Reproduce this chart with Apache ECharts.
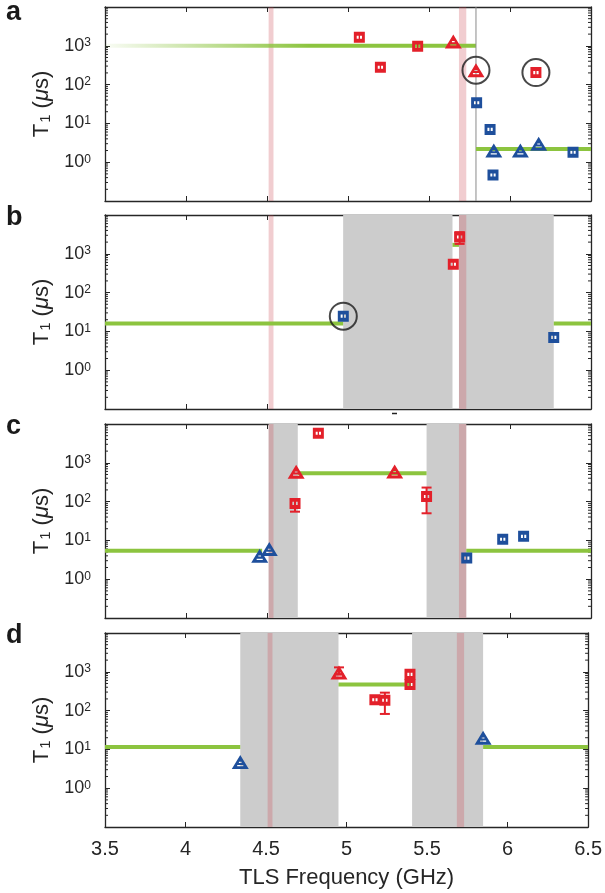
<!DOCTYPE html>
<html>
<head>
<meta charset="utf-8">
<script src="https://cdn.jsdelivr.net/npm/echarts@6/dist/echarts.min.js"></script>
<style>
  html, body { margin: 0; padding: 0; background: #fff; }
  #chart { width: 605px; height: 893px; }
</style>
</head>
<body>
<div id="chart"></div>
<script>
// ---- Axes ----
const freqTicks = [3.5, 4, 4.5, 5, 5.5, 6, 6.5];
const t1Range = [0.1, 10000];
const t1LabelExponents = [0, 1, 2, 3];

// Resonance bands shared by every panel (GHz)
const pinkBands = [[4.51, 4.54], [5.685, 5.73]];

// ---- Panel a ----
const aRedSquares = [[5.07, 1660], [5.20, 280], [5.43, 980], [6.16, 204]];
const aRedTriangles = [[5.65, 1300], [5.79, 235]];
const aBlueSquares = [[5.794, 34], [5.877, 7.0], [5.895, 0.47], [6.389, 1.8]];
const aBlueTriangles = [[5.90, 2.0], [6.064, 2.0], [6.177, 3.0]];
const aCircled = [[5.79, 235], [6.16, 204]];
const aFadeLevel = [[3.5, 1000], [5.79, 1000]];
const aLevels = [[5.79, 6.5, 2.2]];
const aGrayBands = [];
const aErrors = [];
const aMarkerLine = [5.79];

// ---- Panel b ----
const bRedSquares = [[5.689, 2700], [5.65, 540]];
const bRedTriangles = [];
const bBlueSquares = [[4.971, 24.7], [6.27, 7.0]];
const bBlueTriangles = [];
const bCircled = [[4.971, 24.7]];
const bLevels = [[3.5, 4.97, 16], [5.645, 5.685, 1700], [6.27, 6.5, 16]];
const bGrayBands = [[4.97, 5.645], [5.685, 6.27]];
const bErrors = [[5.689, 1800, 3600]];

// ---- Panel c ----
const cRedSquares = [[4.673, 90], [4.817, 5800], [5.485, 136]];
const cRedTriangles = [[4.68, 590], [5.288, 600]];
const cBlueSquares = [[5.733, 3.5], [5.955, 10.7], [6.084, 12.7]];
const cBlueTriangles = [[4.455, 4.0], [4.514, 6.0]];
const cCircled = [];
const cLevels = [[3.5, 4.47, 5.4], [4.69, 5.485, 540], [5.73, 6.5, 5.4]];
const cGrayBands = [[4.51, 4.69], [5.485, 5.73]];
const cErrors = [[4.673, 55, 110], [5.485, 50, 230]];

// ---- Panel d ----
const dRedSquares = [[5.394, 860], [5.394, 470], [5.176, 190], [5.238, 185]];
const dRedTriangles = [[4.953, 960]];
const dBlueSquares = [];
const dBlueTriangles = [[4.34, 4.7], [5.848, 20]];
const dCircled = [];
const dLevels = [[3.5, 4.34, 11.5], [4.95, 5.40, 470], [5.848, 6.5, 11.5]];
const dGrayBands = [[4.34, 4.95], [5.407, 5.848]];
const dErrors = [[5.238, 82, 290], [4.953, 850, 1300]];

const panelLetters = ['a', 'b', 'c', 'd'];

// ---- Styling ----
const FONT = '"Liberation Sans", Arial, Helvetica, sans-serif';
const INK = '#262626';
const RED = '#e3202a';
const BLUE = '#1e4f9c';
const GREEN = '#8cc43f';
const GRAY = '#cccccc';
const PINK = 'rgba(205,70,80,0.27)';
const GRID_LEFT = 105, GRID_RIGHT = 14, GRID_H = 194;
const GRID_TOPS = [7, 215, 424, 633];

// filled square with two small slots, filled triangle with two slots
const SQUARE = 'path://M0,0H10V10H0Z M2.6,3.6V6.4H4.4V3.6Z M5.6,3.6V6.4H7.4V3.6Z';
const TRIANGLE = 'path://M5,0L10,9H0Z M3.2,6.3V7.1H6.8V6.3Z M4.2,4.3V5H5.8V4.3Z';

const panels = [
  { red: aRedSquares, redTri: aRedTriangles, blue: aBlueSquares, blueTri: aBlueTriangles,
    circled: aCircled, levels: aLevels, gray: aGrayBands, errors: aErrors },
  { red: bRedSquares, redTri: bRedTriangles, blue: bBlueSquares, blueTri: bBlueTriangles,
    circled: bCircled, levels: bLevels, gray: bGrayBands, errors: bErrors },
  { red: cRedSquares, redTri: cRedTriangles, blue: cBlueSquares, blueTri: cBlueTriangles,
    circled: cCircled, levels: cLevels, gray: cGrayBands, errors: cErrors },
  { red: dRedSquares, redTri: dRedTriangles, blue: dBlueSquares, blueTri: dBlueTriangles,
    circled: dCircled, levels: dLevels, gray: dGrayBands, errors: dErrors }
];

// minor tick values of the log axis (2..9 in each decade)
const minorTicks = [];
for (let e = -1; e <= 3; e++) {
  for (let m = 2; m <= 9; m++) minorTicks.push([freqTicks[0], m * Math.pow(10, e)]);
}

const grid = [], xAxis = [], yAxis = [], series = [];

function bandSeries(k, bands, color, z) {
  return {
    type: 'custom', xAxisIndex: 2 * k, yAxisIndex: 2 * k, z: z, silent: true,
    data: bands,
    encode: { x: [0, 1] },
    renderItem: function (params, api) {
      const p0 = api.coord([api.value(0), t1Range[1]]);
      const p1 = api.coord([api.value(1), t1Range[0]]);
      return { type: 'rect', shape: { x: p0[0], y: p0[1], width: p1[0] - p0[0], height: p1[1] - p0[1] },
               style: { fill: color } };
    }
  };
}

panels.forEach(function (p, k) {
  grid.push({ left: GRID_LEFT, right: GRID_RIGHT, top: GRID_TOPS[k], height: GRID_H });

  const last = k === panels.length - 1;
  xAxis.push({
    type: 'value', gridIndex: k, min: freqTicks[0], max: freqTicks[freqTicks.length - 1], interval: 0.5,
    position: 'bottom',
    axisLine: { show: true, lineStyle: { color: INK, width: 1.3 } },
    axisTick: { show: true, inside: true, length: 5, lineStyle: { color: INK } },
    splitLine: { show: false },
    axisLabel: { show: last, fontFamily: FONT, fontSize: 20, color: INK, margin: 12,
                 formatter: function (v) { return String(v); } },
    name: last ? 'TLS Frequency (GHz)' : '',
    nameLocation: 'middle', nameGap: 40,
    nameTextStyle: { fontFamily: FONT, fontSize: 22, color: INK }
  });
  xAxis.push({
    type: 'value', gridIndex: k, min: freqTicks[0], max: freqTicks[freqTicks.length - 1], interval: 0.5,
    position: 'top',
    axisLine: { show: true, lineStyle: { color: INK, width: 1.3 } },
    axisTick: { show: true, inside: true, length: 5, lineStyle: { color: INK } },
    splitLine: { show: false }, axisLabel: { show: false }
  });
  yAxis.push({
    type: 'log', logBase: 10, gridIndex: k, min: t1Range[0], max: t1Range[1], position: 'left',
    axisLine: { show: true, lineStyle: { color: INK, width: 1.3 } },
    axisTick: { show: true, inside: true, length: 5, lineStyle: { color: INK } },
    splitLine: { show: false },
    axisLabel: {
      show: true, margin: 14, color: INK, fontFamily: FONT,
      formatter: function (v) {
        const e = Math.round(Math.log10(v));
        return t1LabelExponents.indexOf(e) >= 0 ? '{b|10}{s|' + e + '}' : '';
      },
      rich: {
        b: { fontSize: 18, lineHeight: 18, fontFamily: FONT, color: INK, verticalAlign: 'bottom', padding: [6, 0, 0, 0] },
        s: { fontSize: 12, lineHeight: 12, fontFamily: FONT, color: INK, verticalAlign: 'top' }
      }
    }
  });
  yAxis.push({
    type: 'log', logBase: 10, gridIndex: k, min: t1Range[0], max: t1Range[1], position: 'right',
    axisLine: { show: true, lineStyle: { color: INK, width: 1.3 } },
    axisTick: { show: true, inside: true, length: 5, lineStyle: { color: INK } },
    splitLine: { show: false }, axisLabel: { show: false }
  });

  const xi = 2 * k, yi = 2 * k;

  // shaded regions
  if (p.gray.length) series.push(bandSeries(k, p.gray, GRAY, 1));
  series.push(bandSeries(k, pinkBands, PINK, 2));

  // minor ticks on both sides of the log axis
  series.push({
    type: 'custom', xAxisIndex: xi, yAxisIndex: yi, z: 3, silent: true, data: minorTicks,
    renderItem: function (params, api) {
      const v = api.value(1);
      const l = api.coord([freqTicks[0], v]);
      const r = api.coord([freqTicks[freqTicks.length - 1], v]);
      return { type: 'group', children: [
        { type: 'line', shape: { x1: l[0], y1: l[1], x2: l[0] + 3, y2: l[1] }, style: { stroke: INK, lineWidth: 1 } },
        { type: 'line', shape: { x1: r[0], y1: r[1], x2: r[0] - 3, y2: r[1] }, style: { stroke: INK, lineWidth: 1 } }
      ] };
    }
  });

  // panel a: fading level and the thin marker line
  if (k === 0) {
    series.push({
      type: 'line', xAxisIndex: xi, yAxisIndex: yi, z: 4, silent: true, symbol: 'none', data: aFadeLevel,
      lineStyle: { width: 4, color: new echarts.graphic.LinearGradient(0, 0, 1, 0, [
        { offset: 0, color: 'rgba(140,196,63,0.04)' },
        { offset: 0.55, color: 'rgba(140,196,63,1)' },
        { offset: 1, color: 'rgba(140,196,63,1)' }
      ]) }
    });
    series.push({
      type: 'line', xAxisIndex: xi, yAxisIndex: yi, z: 4, silent: true, symbol: 'none',
      data: [[aMarkerLine[0], t1Range[0]], [aMarkerLine[0], t1Range[1]]],
      lineStyle: { width: 1, color: '#8a8a8a' }
    });
  }

  // green levels
  p.levels.forEach(function (lv) {
    series.push({
      type: 'line', xAxisIndex: xi, yAxisIndex: yi, z: 4, silent: true, symbol: 'none',
      data: [[lv[0], lv[2]], [lv[1], lv[2]]],
      lineStyle: { width: 4, color: GREEN }
    });
  });

  // error bars
  if (p.errors.length) {
    series.push({
      type: 'custom', xAxisIndex: xi, yAxisIndex: yi, z: 5, silent: true, data: p.errors,
      encode: { x: 0, y: [1, 2] },
      renderItem: function (params, api) {
        const lo = api.coord([api.value(0), api.value(1)]);
        const hi = api.coord([api.value(0), api.value(2)]);
        const st = { stroke: RED, lineWidth: 2 };
        return { type: 'group', children: [
          { type: 'line', shape: { x1: lo[0], y1: lo[1], x2: hi[0], y2: hi[1] }, style: st },
          { type: 'line', shape: { x1: lo[0] - 5, y1: lo[1], x2: lo[0] + 5, y2: lo[1] }, style: st },
          { type: 'line', shape: { x1: hi[0] - 5, y1: hi[1], x2: hi[0] + 5, y2: hi[1] }, style: st }
        ] };
      }
    });
  }

  // markers
  const markerSets = [
    [p.red, SQUARE, [11, 11], RED],
    [p.redTri, TRIANGLE, [17, 14], RED],
    [p.blue, SQUARE, [11, 11], BLUE],
    [p.blueTri, TRIANGLE, [17, 14], BLUE]
  ];
  markerSets.forEach(function (m) {
    if (!m[0].length) return;
    series.push({
      type: 'scatter', xAxisIndex: xi, yAxisIndex: yi, z: 6, silent: true,
      symbol: m[1], symbolSize: m[2], data: m[0],
      itemStyle: { color: m[3], opacity: 1 }
    });
  });

  if (p.circled.length) {
    series.push({
      type: 'scatter', xAxisIndex: xi, yAxisIndex: yi, z: 7, silent: true,
      symbol: 'circle', symbolSize: 27, data: p.circled,
      itemStyle: { color: 'rgba(0,0,0,0)', borderColor: '#1a1a1a', borderWidth: 2 }
    });
  }
});

// panel letters and rotated axis titles
const graphic = [];
GRID_TOPS.forEach(function (top, k) {
  graphic.push({
    type: 'text', left: 6, top: top - 8 + (k === 0 ? 0 : -3),
    style: { text: panelLetters[k], fontFamily: FONT, fontWeight: 'bold', fontSize: 27, fill: '#1a1a1a' }
  });
  graphic.push({
    type: 'text', x: 42, y: top + GRID_H / 2, rotation: Math.PI / 2,
    style: {
      text: '{t|T}{sub|1}{t| (}{mu|μ}{t|s)}',
      align: 'center', verticalAlign: 'middle',
      rich: {
        t: { fontFamily: FONT, fontSize: 22, lineHeight: 22, verticalAlign: 'top', fill: INK },
        mu: { fontFamily: FONT, fontSize: 22, lineHeight: 22, verticalAlign: 'top', fontStyle: 'italic', fill: INK },
        sub: { fontFamily: FONT, fontSize: 15, lineHeight: 15, verticalAlign: 'bottom', padding: [10, 0, 0, 1], fill: INK }
      }
    }
  });
});
// small stray tick below panel b
graphic.push({ type: 'line', shape: { x1: 392, y1: 413.5, x2: 397, y2: 413.5 }, style: { stroke: '#222', lineWidth: 1.5 } });

const chart = echarts.init(document.getElementById('chart'), null, { renderer: 'canvas' });
chart.setOption({
  animation: false,
  backgroundColor: '#ffffff',
  grid: grid, xAxis: xAxis, yAxis: yAxis, series: series, graphic: graphic
});
</script>
</body>
</html>
